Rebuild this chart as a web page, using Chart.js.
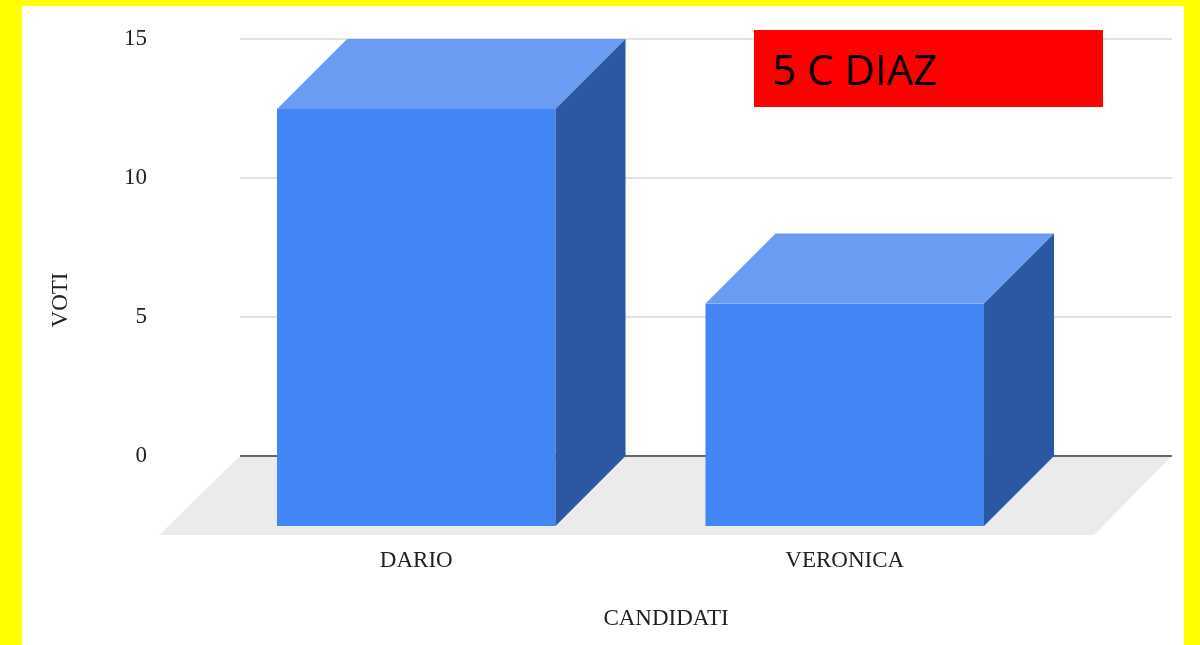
<!DOCTYPE html>
<html>
<head>
<meta charset="utf-8">
<script src="https://cdn.jsdelivr.net/npm/chart.js@4.4.1/dist/chart.umd.min.js"></script>
<style>
  body { margin: 0; background: #ffff00; width: 1200px; height: 645px; overflow: hidden; }
  #frame { position: absolute; left: 22px; top: 6px; width: 1162px; height: 639px; background: #fff; }
  #chart { position: absolute; left: 0; top: 0; }
  #tag {
    position: absolute; left: 754px; top: 30px; width: 349px; height: 77px;
    background: #ff0000; color: #000; box-sizing: border-box; padding-left: 18px;
    font-family: "Open Sans"; font-size: 42px; line-height: 77px;
  }
</style>
</head>
<body>
<div id="frame"></div>
<canvas id="chart" width="1200" height="645"></canvas>
<div id="tag">5 C DIAZ</div>
<script>
// dati del grafico
const categories = ["DARIO", "VERONICA"];
const votes = [15, 8];
const yTicks = [0, 5, 10, 15];
const xTitle = "CANDIDATI";
const yTitle = "VOTI";

const DEPTH = 70;        // profondità delle barre 3D
const FLOOR_DEPTH = 80;  // profondità del pavimento
const textFont = { family: "Liberation Serif", size: 23 };
const textColor = "#222";

// disegna pavimento, griglia e barre in finto 3D
const bars3d = {
  id: "bars3d",
  beforeDatasetsDraw(chart) {
    const { ctx, chartArea, scales } = chart;
    const y = scales.y;
    const left = chartArea.left - 32;
    const right = chartArea.right + 43;
    const y0 = y.getPixelForValue(0);
    ctx.save();
    ctx.fillStyle = "#ebebeb";
    ctx.beginPath();
    ctx.moveTo(left, y0);
    ctx.lineTo(right, y0);
    ctx.lineTo(right - FLOOR_DEPTH + 2, y0 + FLOOR_DEPTH - 1);
    ctx.lineTo(left - FLOOR_DEPTH - 1, y0 + FLOOR_DEPTH - 1);
    ctx.closePath();
    ctx.fill();
    y.ticks.forEach((t) => {
      const py = Math.round(y.getPixelForValue(t.value));
      ctx.strokeStyle = t.value === 0 ? "#666" : "#d9d9d9";
      ctx.lineWidth = t.value === 0 ? 2 : 1.5;
      ctx.beginPath();
      ctx.moveTo(left, py);
      ctx.lineTo(right, py);
      ctx.stroke();
    });
    ctx.restore();
  },
  afterDatasetsDraw(chart) {
    const ctx = chart.ctx;
    ctx.save();
    chart.getDatasetMeta(0).data.forEach((bar) => {
      const p = bar.getProps(["x", "y", "base", "width"], true);
      const l = p.x - p.width / 2;
      const r = p.x + p.width / 2;
      const top = p.y;
      const bottom = p.base;
      // faccia frontale
      ctx.fillStyle = "#4285f4";
      ctx.fillRect(l - DEPTH, top + DEPTH, r - l, bottom - top);
      // faccia superiore
      ctx.fillStyle = "#6a9cf3";
      ctx.beginPath();
      ctx.moveTo(l - DEPTH, top + DEPTH);
      ctx.lineTo(l, top);
      ctx.lineTo(r, top);
      ctx.lineTo(r - DEPTH, top + DEPTH);
      ctx.closePath();
      ctx.fill();
      // faccia laterale
      ctx.fillStyle = "#2c57a2";
      ctx.beginPath();
      ctx.moveTo(r - DEPTH, top + DEPTH);
      ctx.lineTo(r, top);
      ctx.lineTo(r, bottom);
      ctx.lineTo(r - DEPTH, bottom + DEPTH);
      ctx.closePath();
      ctx.fill();
    });
    ctx.restore();
  },
  afterDraw(chart) {
    const ctx = chart.ctx;
    ctx.save();
    ctx.font = textFont.size + "px " + textFont.family;
    ctx.fillStyle = textColor;
    ctx.textAlign = "center";
    ctx.textBaseline = "middle";
    ctx.fillText(xTitle, 666, 619);
    ctx.translate(61, 300);
    ctx.rotate(-Math.PI / 2);
    ctx.fillText(yTitle, 0, 0);
    ctx.restore();
  },
};

new Chart(document.getElementById("chart"), {
  type: "bar",
  data: {
    labels: categories,
    datasets: [
      {
        data: votes,
        backgroundColor: "rgba(0,0,0,0)",
        categoryPercentage: 1,
        barPercentage: 0.65,
      },
    ],
  },
  options: {
    responsive: false,
    animation: false,
    layout: { padding: { top: 39, right: 71, left: 0, bottom: 0 } },
    plugins: {
      legend: { display: false },
      tooltip: { enabled: false },
    },
    scales: {
      x: {
        grid: { display: false },
        border: { display: false },
        ticks: { labelOffset: -DEPTH, padding: 83, font: textFont, color: textColor },
        afterFit(s) {
          s.height = 189;
          s.paddingLeft = 0;
          s.paddingRight = 0;
        },
      },
      y: {
        min: 0,
        max: 15,
        grid: { display: false },
        border: { display: false },
        ticks: { padding: 117, font: textFont, color: textColor },
        afterBuildTicks(s) {
          s.ticks = yTicks.map((v) => ({ value: v }));
        },
        afterFit(s) {
          s.width = 272;
          s.paddingTop = 0;
          s.paddingBottom = 0;
        },
      },
    },
  },
  plugins: [bars3d],
});
</script>
</body>
</html>
